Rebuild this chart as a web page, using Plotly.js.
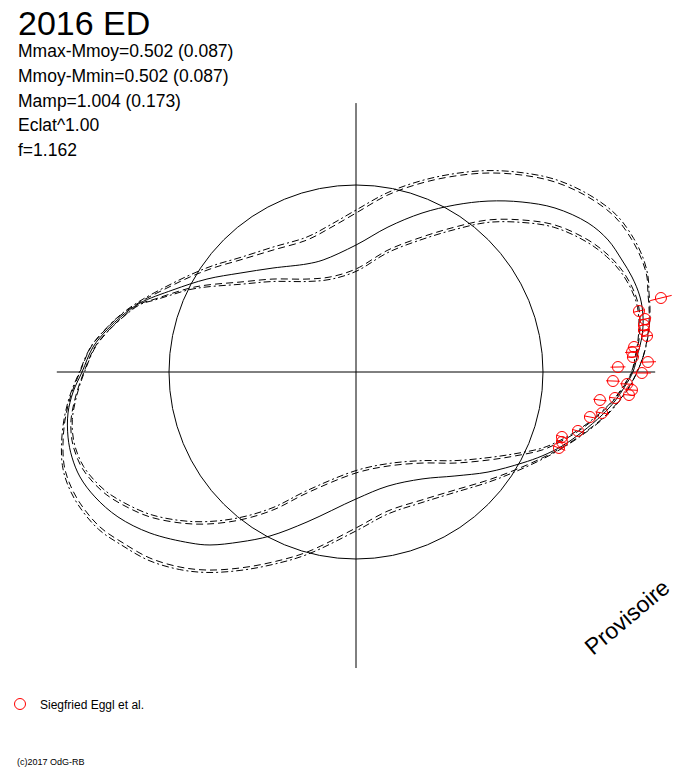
<!DOCTYPE html>
<html><head><meta charset="utf-8">
<script src="https://cdn.plot.ly/plotly-3.0.1.min.js"></script>
<style>html,body{margin:0;padding:0;background:#fff}#chart{width:688px;height:768px}</style>
</head><body><div id="chart"></div>
<script>
// ---- texts ----
const titleText = "2016 ED";
const infoLines = ["Mmax-Mmoy=0.502 (0.087)", "Mmoy-Mmin=0.502 (0.087)", "Mamp=1.004 (0.173)", "Eclat^1.00", "f=1.162"];
const seriesName = "Siegfried Eggl et al.";
const creditText = "(c)2017 OdG-RB";
const watermarkText = "Provisoire";

// ---- model curves (units: reference circle radius = 1) ----
const meanX = [1.481,1.508,1.529,1.535,1.519,1.476,1.422,1.348,1.241,1.064,0.888,0.706,0.529,0.353,0.171,0,-0.176,-0.262,-0.444,-0.620,-0.797,-0.979,-1.155,-1.246,-1.332,-1.406,-1.465,-1.513,-1.540,-1.540,-1.519,-1.476,-1.396,-1.273,-1.102,-0.888,-0.781,-0.620,-0.460,-0.262,0,0.171,0.353,0.529,0.706,0.888,0.995,1.102,1.209,1.316,1.385,1.439];
const meanY = [0,0.102,0.187,0.294,0.401,0.508,0.599,0.706,0.797,0.877,0.909,0.914,0.893,0.850,0.775,0.679,0.599,0.578,0.556,0.529,0.497,0.439,0.369,0.305,0.225,0.134,0,-0.107,-0.219,-0.348,-0.455,-0.561,-0.668,-0.775,-0.861,-0.914,-0.925,-0.909,-0.877,-0.802,-0.679,-0.610,-0.572,-0.556,-0.535,-0.487,-0.449,-0.396,-0.321,-0.230,-0.155,-0.075];

const outerAX = [1.503,1.535,1.556,1.567,1.567,1.561,1.556,1.529,1.476,1.385,1.241,1.064,0.888,0.706,0.529,0.353,0.171,0,-0.139,-0.262,-0.444,-0.620,-0.765,-0.888,-1.011,-1.155,-1.257,-1.342,-1.417,-1.476,-1.524,-1.556,-1.567,-1.561,-1.535,-1.476,-1.369,-1.246,-1.102,-0.941,-0.797,-0.620,-0.444,-0.262,0,0.171,0.353,0.529,0.706,0.850,0.995,1.107,1.219,1.326,1.401,1.460];
const outerAY = [0,0.080,0.171,0.262,0.348,0.422,0.508,0.599,0.706,0.829,0.936,1.016,1.053,1.064,1.048,1.011,0.947,0.850,0.770,0.706,0.652,0.599,0.556,0.508,0.449,0.374,0.305,0.225,0.134,0,-0.123,-0.257,-0.390,-0.497,-0.588,-0.701,-0.829,-0.914,-0.995,-1.043,-1.059,-1.048,-1.016,-0.963,-0.834,-0.743,-0.684,-0.631,-0.578,-0.524,-0.460,-0.401,-0.326,-0.241,-0.160,-0.080];

const outerBX = [1.503,1.535,1.558,1.570,1.572,1.567,1.562,1.537,1.485,1.393,1.248,1.068,0.888,0.706,0.529,0.353,0.171,0,-0.139,-0.262,-0.444,-0.620,-0.765,-0.888,-1.011,-1.155,-1.257,-1.342,-1.419,-1.479,-1.529,-1.562,-1.575,-1.570,-1.545,-1.486,-1.378,-1.253,-1.107,-0.945,-0.797,-0.620,-0.444,-0.262,0,0.171,0.353,0.529,0.706,0.850,0.995,1.107,1.221,1.329,1.404,1.462];
const outerBY = [0,0.080,0.171,0.262,0.348,0.422,0.508,0.605,0.714,0.839,0.947,1.029,1.066,1.077,1.061,1.024,0.960,0.866,0.786,0.722,0.668,0.612,0.569,0.519,0.459,0.380,0.308,0.227,0.134,0,-0.123,-0.257,-0.390,-0.500,-0.594,-0.710,-0.840,-0.926,-1.008,-1.056,-1.072,-1.061,-1.029,-0.976,-0.850,-0.759,-0.698,-0.644,-0.590,-0.534,-0.467,-0.405,-0.329,-0.243,-0.161,-0.080];

const innerAX = [1.476,1.497,1.513,1.519,1.508,1.476,1.422,1.348,1.241,1.064,0.888,0.706,0.529,0.353,0.171,0,-0.139,-0.262,-0.444,-0.620,-0.797,-0.888,-0.979,-1.075,-1.155,-1.235,-1.321,-1.396,-1.455,-1.497,-1.524,-1.519,-1.497,-1.465,-1.412,-1.332,-1.225,-1.102,-0.941,-0.797,-0.620,-0.444,-0.262,0,0.171,0.353,0.529,0.706,0.850,0.995,1.091,1.198,1.305,1.380,1.433];
const innerAY = [0,0.086,0.171,0.278,0.369,0.455,0.545,0.626,0.706,0.786,0.813,0.813,0.775,0.722,0.652,0.551,0.508,0.497,0.497,0.481,0.465,0.449,0.422,0.390,0.364,0.305,0.225,0.134,0,-0.123,-0.257,-0.364,-0.444,-0.513,-0.583,-0.658,-0.722,-0.775,-0.807,-0.813,-0.791,-0.738,-0.647,-0.540,-0.503,-0.487,-0.487,-0.471,-0.449,-0.417,-0.374,-0.310,-0.225,-0.150,-0.075];

const innerBX = [1.473,1.494,1.508,1.513,1.501,1.468,1.414,1.340,1.233,1.058,0.885,0.706,0.529,0.353,0.171,0,-0.139,-0.262,-0.444,-0.620,-0.797,-0.888,-0.979,-1.072,-1.152,-1.233,-1.319,-1.393,-1.452,-1.492,-1.517,-1.511,-1.489,-1.457,-1.404,-1.325,-1.219,-1.099,-0.941,-0.797,-0.620,-0.444,-0.262,0,0.171,0.353,0.529,0.706,0.850,0.995,1.091,1.196,1.302,1.377,1.430];
const innerBY = [0,0.086,0.171,0.276,0.365,0.450,0.538,0.617,0.696,0.774,0.800,0.800,0.762,0.709,0.639,0.538,0.495,0.484,0.484,0.469,0.455,0.441,0.415,0.386,0.362,0.304,0.225,0.134,0,-0.121,-0.254,-0.360,-0.438,-0.505,-0.574,-0.647,-0.710,-0.762,-0.794,-0.800,-0.778,-0.725,-0.634,-0.527,-0.490,-0.474,-0.474,-0.458,-0.437,-0.407,-0.366,-0.305,-0.222,-0.148,-0.074];

// ---- observations (polar: phase angle in degrees, radius, radial error) ----
const obsPhaseDeg = [13.64,12.16,10.39,9.27,8.30,7.05,5.14,4.14,3.10,1.96,1.09,-0.20,-2.01,-2.54,-3.73,-4.82,-5.73,-6.55,-9.46,-10.89,-14.88,-17.51,-18.77,-20.52];
const obsR = [1.678,1.548,1.571,1.560,1.556,1.568,1.493,1.480,1.483,1.562,1.401,1.529,1.375,1.451,1.479,1.465,1.392,1.313,1.334,1.274,1.228,1.155,1.163,1.159];
const obsErr = [0.059,0.032,0.034,0.032,0.032,0.027,0.034,0.037,0.032,0.043,0.040,0.048,0.037,0.037,0.027,0.027,0.032,0.036,0.036,0.032,0.032,0.032,0.032,0.036];

// ---- build ----
const FONT = "Liberation Sans, Arial, sans-serif";
const W = 688, H = 768;
function closed(a){ return a.concat([a[0]]); }
function curve(xs, ys, dash){
  return {type:'scatter', mode:'lines', x:closed(xs), y:closed(ys), hoverinfo:'skip', showlegend:false,
    line:{color:'#000', width:1, dash:dash, shape:'spline', smoothing:1}};
}
const rad = Math.PI/180;
const ox = obsR.map((r,i)=>r*Math.cos(obsPhaseDeg[i]*rad));
const oy = obsR.map((r,i)=>r*Math.sin(obsPhaseDeg[i]*rad));
const ex = [], ey = [];
obsR.forEach((r,i)=>{
  const c = Math.cos(obsPhaseDeg[i]*rad), s = Math.sin(obsPhaseDeg[i]*rad);
  ex.push((r-obsErr[i])*c, (r+obsErr[i])*c, null);
  ey.push((r-obsErr[i])*s, (r+obsErr[i])*s, null);
});

const traces = [
  curve(outerAX, outerAY, '7px,4px'),
  curve(outerBX, outerBY, '7px,3px,2px,3px'),
  curve(innerAX, innerAY, '7px,4px'),
  curve(innerBX, innerBY, '7px,3px,2px,3px'),
  curve(meanX, meanY, 'solid'),
  {type:'scatter', mode:'lines', x:ex, y:ey, showlegend:false, hoverinfo:'skip',
   line:{color:'#ff0000', width:1}},
  {type:'scatter', mode:'markers', x:ox, y:oy, name:seriesName, showlegend:true,
   marker:{symbol:'circle-open', size:11, color:'#ff0000', line:{width:1, color:'#ff0000'}}}
];

// pixel-based layout helpers (center of the diagram at px (356,372), unit radius 187 px)
const CX = 356, CY = 372, R = 187;
const xr = [(0-CX)/R, (W-CX)/R];
const yr = [(CY-H)/R, (CY-0)/R];
const px = v => v/W, py = v => 1 - v/H;

function ann(text, x, y, size, extra){
  return Object.assign({text:text, x:px(x), y:py(y), xref:'paper', yref:'paper', showarrow:false,
    xanchor:'left', yanchor:'middle', font:{family:FONT, size:size, color:'#000'}}, extra||{});
}
const annotations = [
  ann(titleText, 16, 23, 34),
  ...infoLines.map((t,i)=>ann(t, 16, [51,76,101,125,150][i], 17.5)),
  ann(creditText, 15, 762, 9),
  ann(watermarkText, 627, 617, 23, {xanchor:'center', textangle:-40})
];

const layout = {
  width:W, height:H, margin:{l:0,r:0,t:0,b:0}, paper_bgcolor:'#fff', plot_bgcolor:'#fff',
  xaxis:{range:xr, visible:false, fixedrange:true},
  yaxis:{range:yr, visible:false, fixedrange:true},
  showlegend:true,
  legend:{x:px(0), y:py(704), xanchor:'left', yanchor:'middle', bgcolor:'rgba(0,0,0,0)',
    font:{family:FONT, size:12, color:'#000'}},
  shapes:[
    {type:'circle', xref:'x', yref:'y', x0:-1, x1:1, y0:-1, y1:1, line:{color:'#000', width:1}, layer:'below'},
    {type:'line', xref:'x', yref:'y', x0:-1.6, x1:1.6, y0:0, y1:0, line:{color:'#000', width:1}, layer:'below'},
    {type:'line', xref:'x', yref:'y', x0:0, x1:0, y0:-1.583, y1:1.438, line:{color:'#000', width:1}, layer:'below'}
  ],
  annotations:annotations
};
Plotly.newPlot('chart', traces, layout, {displayModeBar:false, staticPlot:true});
</script></body></html>
